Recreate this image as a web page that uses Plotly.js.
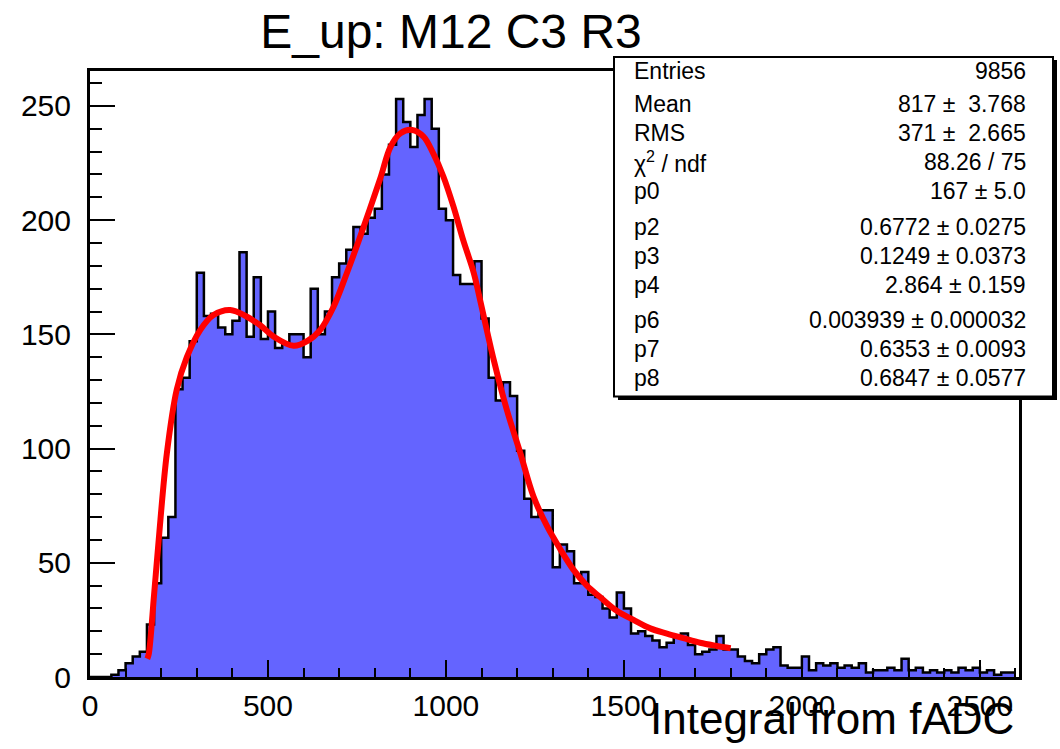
<!DOCTYPE html>
<html>
<head>
<meta charset="utf-8">
<script src="https://cdn.plot.ly/plotly-3.0.1.min.js"></script>
<style>html,body{margin:0;padding:0;background:#fff;}#chart{width:1060px;height:749px;}</style>
</head>
<body>
<div id="chart"></div>
<script>
// ---------------- data ----------------
const chartTitle = "E_up: M12 C3 R3";
const xTitle = "Integral from fADC";
const binStart = 0;
const binWidth = 20;
// bin contents, bins of width 20 starting at 0
const counts = [
  0, 0, 0, 1, 3, 6, 9, 11, 23, 41,
  61, 70, 126, 131, 147, 177, 158, 159, 153, 150,
  156, 186, 149, 175, 148, 160, 144, 146, 150, 150,
  140, 170, 150, 160, 175, 181, 187, 197, 194, 201,
  205, 220, 233, 253, 243, 232, 246, 253, 240, 205,
  200, 176, 172, 172, 182, 157, 131, 121, 129, 123,
  99, 78, 70, 73, 73, 48, 58, 55, 41, 46,
  36, 35, 30, 26, 37, 30, 19, 20, 18, 16,
  13, 15, 18, 19, 14, 10, 11, 12, 18, 12,
  12, 9, 7, 6, 10, 12, 13, 5, 4, 4,
  9, 3, 6, 5, 6, 4, 5, 4, 6, 2,
  3, 3, 4, 3, 8, 3, 4, 2, 3, 2,
  3, 2, 4, 3, 4, 2, 3, 1, 2, 2
];
// fit curve
const fitX = [161, 165, 180, 193, 216, 244, 272, 310, 347, 394, 441, 478, 516, 572, 610, 647, 684, 722, 755, 815, 844, 872, 905, 937, 965, 993, 1021, 1049, 1078, 1096, 1134, 1171, 1209, 1246, 1284, 1321, 1358, 1396, 1433, 1480, 1527, 1574, 1621, 1667, 1714, 1761, 1800];
const fitY = [8, 10, 36, 60, 98, 126, 140, 152, 158.5, 160.7, 157.7, 154, 149, 145, 147, 152, 162, 177, 191, 218, 232, 238, 239.5, 236.6, 229, 219, 206, 191, 177, 165, 139, 117, 98, 79, 66, 56, 47, 40, 35, 29, 25, 21.3, 19, 17, 15, 13.6, 12.6];
// statistics box
const statLabels = ["Entries", "Mean", "RMS", "\u03C7<sup>2</sup> / ndf", "p0", "p2", "p3", "p4", "p6", "p7", "p8"];
const statValues = ["9856", "817 \u00B1\u00A0 3.768", "371 \u00B1\u00A0 2.665", "88.26 / 75", "167 \u00B1 5.0", "0.6772 \u00B1 0.0275", "0.1249 \u00B1 0.0373", "2.864 \u00B1 0.159", "0.003939 \u00B1 0.000032", "0.6353 \u00B1 0.0093", "0.6847 \u00B1 0.0577"];
const xTickVals = [0, 500, 1000, 1500, 2000, 2500];
const yTickVals = [0, 50, 100, 150, 200, 250];

// ---------------- layout helpers ----------------
const W = 1060, H = 749;
const ML = 90, MR = 41, MT = 71, MB = 72;
const PW = W - ML - MR, PH = H - MT - MB;
const px2x = p => (p - ML) / PW;
const px2y = p => (H - MB - p) / PH;

// step outline (ROOT style)
const edges = [];
const stepY = [];
for (let i = 0; i < counts.length; i++) {
  edges.push(binStart + i * binWidth);
  stepY.push(counts[i]);
}
edges.push(binStart + counts.length * binWidth);
stepY.push(counts[counts.length - 1]);

const font = "Liberation Sans, Arial, Helvetica, sans-serif";

const traces = [
  {
    type: "scatter", mode: "lines", x: edges, y: stepY,
    line: {shape: "hv", color: "#000000", width: 2.5},
    fill: "tozeroy", fillcolor: "#6464ff", hoverinfo: "skip"
  },
  {
    type: "scatter", mode: "lines", x: fitX, y: fitY,
    line: {shape: "spline", color: "#ff0000", width: 6}, hoverinfo: "skip"
  }
];

const rowY = [71, 104, 133, 162, 191, 227, 256, 285, 320, 349, 378];
const annotations = [];
statLabels.forEach((t, i) => {
  annotations.push({
    xref: "paper", yref: "paper", x: px2x(632), y: px2y(rowY[i]),
    xanchor: "left", yanchor: "middle", text: t, showarrow: false,
    font: {family: font, size: 23, color: "#000"}
  });
  annotations.push({
    xref: "paper", yref: "paper", x: px2x(1028), y: px2y(rowY[i]),
    xanchor: "right", yanchor: "middle", text: statValues[i], showarrow: false,
    font: {family: font, size: 23, color: "#000"}
  });
});
annotations.push({
  xref: "paper", yref: "paper", x: px2x(1016), y: px2y(718),
  xanchor: "right", yanchor: "middle", text: xTitle, showarrow: false,
  font: {family: font, size: 44, color: "#000"}
});

const shapes = [
  {type: "rect", xref: "paper", yref: "paper", layer: "above",
   x0: px2x(618), x1: px2x(1057), y0: px2y(400), y1: px2y(60),
   fillcolor: "#000", line: {width: 0}},
  {type: "rect", xref: "paper", yref: "paper", layer: "above",
   x0: px2x(614), x1: px2x(1053), y0: px2y(396.5), y1: px2y(57),
   fillcolor: "#fff", line: {color: "#000", width: 2}}
];

const layout = {
  width: W, height: H,
  margin: {l: ML, r: MR, t: MT, b: MB},
  paper_bgcolor: "#fff", plot_bgcolor: "#fff",
  showlegend: false,
  title: {text: chartTitle, x: 451 / W, xanchor: "center", xref: "container",
          y: 1 - 31 / H, yanchor: "middle", yref: "container",
          font: {family: font, size: 48, color: "#000"}},
  xaxis: {
    range: [0, 2610], showgrid: false, zeroline: false,
    showline: true, linecolor: "#000", linewidth: 3, mirror: true,
    ticks: "inside", ticklen: 17, tickwidth: 2, tickcolor: "#000",
    tickmode: "array", tickvals: xTickVals, ticktext: xTickVals.map(String),
    minor: {ticks: "inside", ticklen: 9, tickwidth: 2, tickcolor: "#000", dtick: 100, tick0: 0, showgrid: false},
    tickfont: {family: font, size: 30, color: "#000"}
  },
  yaxis: {
    range: [0, 265.3], showgrid: false, zeroline: false,
    showline: true, linecolor: "#000", linewidth: 3, mirror: true,
    ticks: "inside", ticklen: 25, tickwidth: 2, tickcolor: "#000",
    tickmode: "array", tickvals: yTickVals, ticktext: yTickVals.map(String),
    minor: {ticks: "inside", ticklen: 12, tickwidth: 2, tickcolor: "#000", dtick: 10, tick0: 0, showgrid: false},
    tickfont: {family: font, size: 30, color: "#000"},
    ticklabelstandoff: 10
  },
  annotations: annotations,
  shapes: shapes
};

Plotly.newPlot("chart", traces, layout, {displayModeBar: false, staticPlot: true});
</script>
</body>
</html>
